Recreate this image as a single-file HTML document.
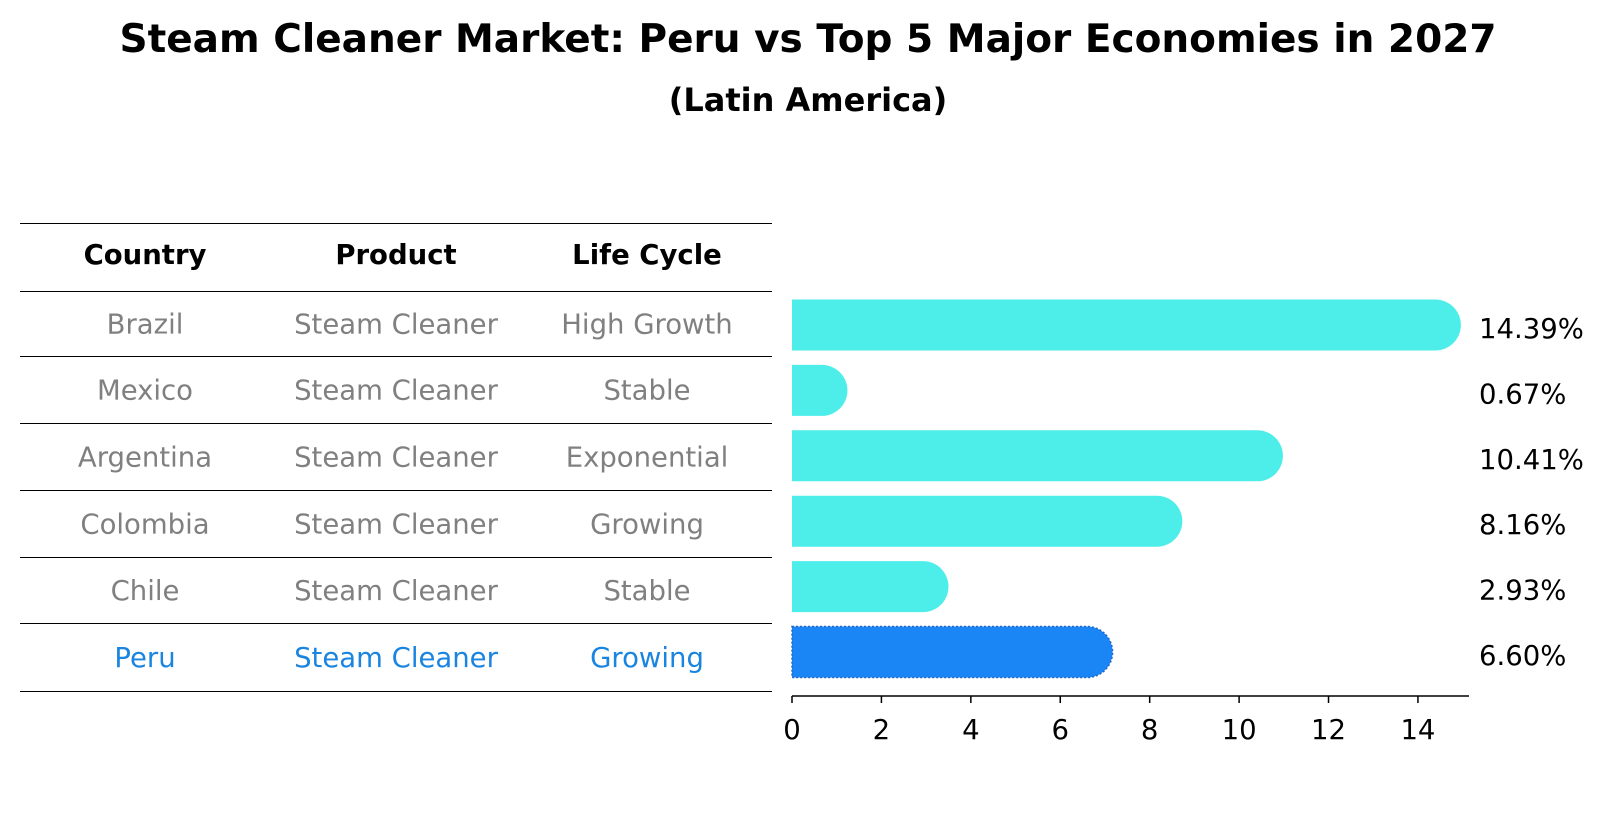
<!DOCTYPE html>
<html><head><meta charset="utf-8"><style>
body{margin:0;background:#fff;font-family:"Liberation Sans","DejaVu Sans",sans-serif}
svg text{font-family:"DejaVu Sans","Liberation Sans",sans-serif}
</style></head><body>
<svg id="c" width="1604" height="823" xmlns="http://www.w3.org/2000/svg">
<text x="808" y="52" text-anchor="middle" font-size="39" font-weight="bold">Steam Cleaner Market: Peru vs Top 5 Major Economies in 2027</text>
<text x="808" y="111" text-anchor="middle" font-size="32" font-weight="bold">(Latin America)</text>
<g id="tbl"></g>
<g id="bars"></g>
</svg>
<script>
const countries=["Brazil","Mexico","Argentina","Colombia","Chile","Peru"];
const products=["Steam Cleaner","Steam Cleaner","Steam Cleaner","Steam Cleaner","Steam Cleaner","Steam Cleaner"];
const lifeCycles=["High Growth","Stable","Exponential","Growing","Stable","Growing"];
const values=[14.39,0.67,10.41,8.16,2.93,6.60];
const valueLabels=["14.39%","0.67%","10.41%","8.16%","2.93%","6.60%"];
const ticks=[0,2,4,6,8,10,12,14];
const NS="http://www.w3.org/2000/svg";
function mk(p,t,a,txt){const e=document.createElementNS(NS,t);for(const k in a)e.setAttribute(k,a[k]);if(txt!=null)e.textContent=txt;p.appendChild(e);return e;}
const tbl=document.getElementById('tbl');
const lines=[223,291,356,423,490,557,623,691];
lines.forEach((y,i)=>{const l=mk(tbl,'line',{x1:20,x2:772,y1:y+0.5,y2:y+0.5,stroke:'#000','stroke-width':1});

});
const cx=[145,396,647];
["Country","Product","Life Cycle"].forEach((h,j)=>{const t=mk(tbl,'text',{x:cx[j],y:264,'text-anchor':'middle','font-size':27.5,'font-weight':'bold'},h);

});
countries.forEach((c,i)=>{const y=(lines[i+1]+lines[i+2])/2+10;const col=c==='Peru'?'#1a85e0':'#808080';
[c,products[i],lifeCycles[i]].forEach((v,j)=>{const t=mk(tbl,'text',{x:cx[j],y:y,'text-anchor':'middle','font-size':27.5,fill:col},v);

});});
const bars=document.getElementById('bars');
const x0=792,unit=44.71,h=51;
const xs=v=>x0+v*unit;
const ys=i=>325+i*65.4;
values.forEach((v,i)=>{const peru=countries[i]==='Peru';const yc=ys(i);const xe=xs(v);
const d=`M${x0},${yc-h/2} L${xe},${yc-h/2} A${h/2},${h/2} 0 0 1 ${xe},${yc+h/2} L${x0},${yc+h/2} Z`;
const p=mk(bars,'path',{d:d,fill:peru?'#1a85f5':'#4deeea',stroke:peru?'#2266cc':'none','stroke-width':peru?1.5:0,'stroke-dasharray':peru?'2 2':''});


const t=mk(bars,'text',{x:1479,y:yc+13,'font-size':27.5},valueLabels[i]);

});
const ax=mk(bars,'line',{x1:x0,x2:1469,y1:696,y2:696,stroke:'#000','stroke-width':1.5});


ticks.forEach(t=>{const tk=mk(bars,'line',{x1:xs(t),x2:xs(t),y1:696,y2:703,stroke:'#000','stroke-width':1.5});


const l=mk(bars,'text',{x:xs(t),y:739,'text-anchor':'middle','font-size':27.5},String(t));

});
</script>
</body></html>
